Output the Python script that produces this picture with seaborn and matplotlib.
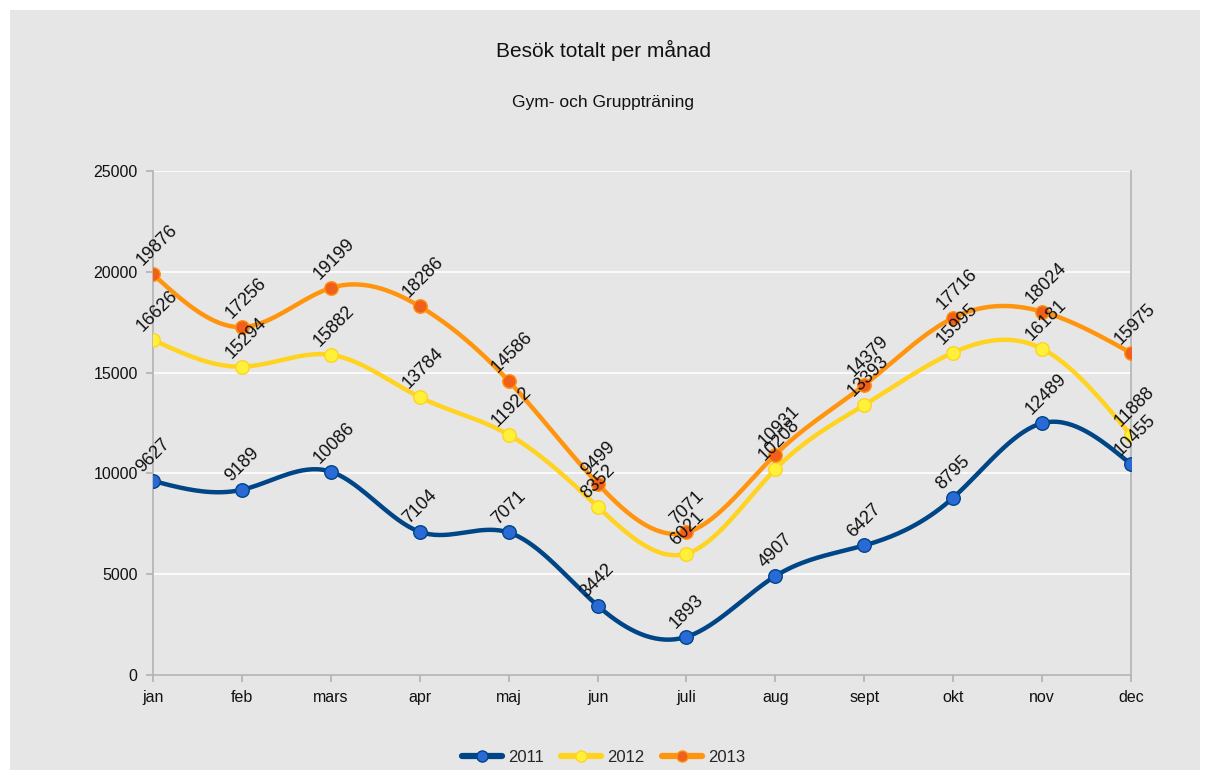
import numpy as np
import pandas as pd
import matplotlib
matplotlib.use("Agg")
import matplotlib.pyplot as plt
import seaborn as sns
from matplotlib.patches import Rectangle
from matplotlib.lines import Line2D

months = ["jan", "feb", "mars", "apr", "maj", "jun", "juli", "aug", "sept", "okt", "nov", "dec"]
v2011 = [9627, 9189, 10086, 7104, 7071, 3442, 1893, 4907, 6427, 8795, 12489, 10455]
v2012 = [16626, 15294, 15882, 13784, 11922, 8352, 6021, 10208, 13393, 15995, 16181, 11888]
v2013 = [19876, 17256, 19199, 18286, 14586, 9499, 7071, 10931, 14379, 17716, 18024, 15975]
years = ["2011", "2012", "2013"]
title = "Besök totalt per månad"
subtitle = "Gym- och Gruppträning"

colors = {"2011": "#004586", "2012": "#ffd320", "2013": "#ff950e"}
mfaces = {"2011": "#2a6ad6", "2012": "#fff13a", "2013": "#f0601a"}

sns.set_theme(style="white")
plt.rcParams["font.family"] = ["Liberation Sans", "DejaVu Sans"]

df = pd.DataFrame({"month": months * 3,
                   "x": list(range(12)) * 3,
                   "value": v2011 + v2012 + v2013,
                   "year": [y for y in years for _ in months]})


def natural_spline(x, y, n=400):
    x = np.asarray(x, float); y = np.asarray(y, float)
    k = len(x)
    h = np.diff(x)
    A = np.zeros((k, k)); b = np.zeros(k)
    A[0, 0] = A[-1, -1] = 1
    for i in range(1, k - 1):
        A[i, i - 1] = h[i - 1]; A[i, i] = 2 * (h[i - 1] + h[i]); A[i, i + 1] = h[i]
        b[i] = 3 * ((y[i + 1] - y[i]) / h[i] - (y[i] - y[i - 1]) / h[i - 1])
    c = np.linalg.solve(A, b)
    xs = np.linspace(x[0], x[-1], n)
    idx = np.clip(np.searchsorted(x, xs) - 1, 0, k - 2)
    dx = xs - x[idx]
    bb = (y[1:] - y[:-1]) / h - h * (2 * c[:-1] + c[1:]) / 3
    d = (c[1:] - c[:-1]) / (3 * h)
    ys = y[idx] + bb[idx] * dx + c[idx] * dx ** 2 + d[idx] * dx ** 3
    return xs, ys


fig = plt.figure(figsize=(12.07, 7.70), dpi=100)
fig.patch.set_facecolor("white")
fig.add_artist(Rectangle((10 / 1207, 0), 1190 / 1207, 760 / 770, transform=fig.transFigure,
                         facecolor="#e6e6e6", edgecolor="none", zorder=-10))
ax = fig.add_axes([153 / 1207, 1 - 675 / 770, (1131 - 153) / 1207, (675 - 171) / 770])
ax.set_facecolor("#e6e6e6")

for yr in years:
    sub = df[df["year"] == yr]
    xs, ys = natural_spline(sub["x"], sub["value"])
    ax.plot(xs, ys, color=colors[yr], lw=3.2, zorder=3, solid_capstyle="round")
    sns.scatterplot(data=sub, x="x", y="value", ax=ax, color=mfaces[yr], edgecolor=colors[yr],
                    linewidth=1.0, s=95, zorder=4, legend=False)
    for _, r in sub.iterrows():
        ax.annotate(str(r["value"]), (r["x"], r["value"]), xytext=(-10, 8), textcoords="offset points",
                    rotation=45, rotation_mode="anchor", ha="left", va="center", fontsize=13,
                    color="#111111", zorder=5)

ax.set_xlim(0, 11)
ax.set_ylim(0, 25000)
ax.set_xticks(range(12))
ax.set_xticklabels(months)
ax.set_yticks(range(0, 25001, 5000))
ax.set_yticklabels([str(v) for v in range(0, 25001, 5000)])
ax.grid(axis="y", color="white", lw=1.2, zorder=0)
ax.set_axisbelow(True)
ax.set_xlabel(""); ax.set_ylabel("")
for s in ["left", "right", "bottom"]:
    ax.spines[s].set_color("#b3b3b3"); ax.spines[s].set_linewidth(1.2)
ax.spines["top"].set_visible(False)
ax.tick_params(axis="both", which="both", direction="out", length=5, color="#b3b3b3",
               labelsize=11.5, labelcolor="#111111", bottom=True, left=True, pad=6)

fig.text(0.5, 1 - 50 / 770, title, ha="center", va="center", fontsize=15, color="#111111")
fig.text(0.5, 1 - 103 / 770, subtitle, ha="center", va="center", fontsize=12.5, color="#111111")

handles = [Line2D([0], [0], color=colors[y], lw=4.5, marker="o", markersize=8,
                  markerfacecolor=mfaces[y], markeredgecolor=colors[y]) for y in years]
fig.legend(handles, years, loc="center", bbox_to_anchor=(0.5, 1 - 757 / 770), ncol=3,
           frameon=False, fontsize=12, handlelength=2.4, columnspacing=1.0, handletextpad=0.4)

fig.savefig("out.png", dpi=100)
